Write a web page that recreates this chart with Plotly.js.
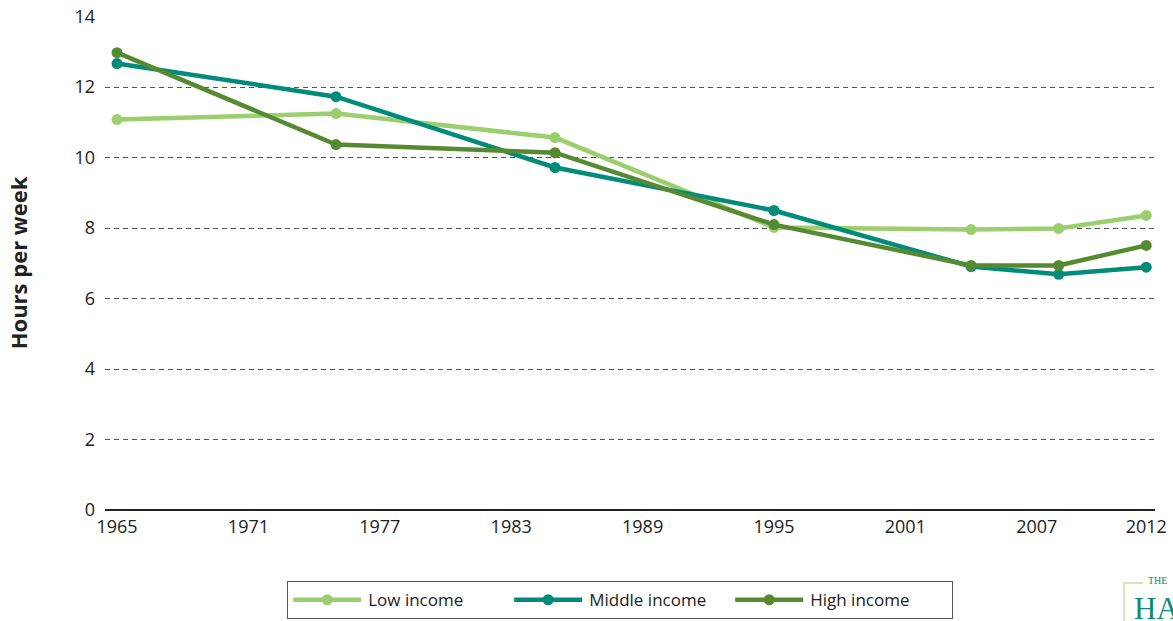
<!DOCTYPE html>
<html>
<head>
<meta charset="utf-8">
<script src="https://cdn.plot.ly/plotly-3.0.1.min.js"></script>
<style>html,body{margin:0;padding:0;background:#fff;}#chart{width:1173px;height:621px;}</style>
</head>
<body>
<div id="chart"></div>
<script>
const years = [1965, 1975, 1985, 1995, 2004, 2008, 2012];
const lowIncome = [11.08, 11.25, 10.57, 8.02, 7.96, 7.99, 8.36];
const middleIncome = [12.67, 11.73, 9.72, 8.50, 6.91, 6.69, 6.89];
const highIncome = [12.98, 10.37, 10.14, 8.10, 6.94, 6.94, 7.51];
const xTicks = [1965, 1971, 1977, 1983, 1989, 1995, 2001, 2007, 2012];
const yTicks = [0, 2, 4, 6, 8, 10, 12, 14];
const seriesNames = ['Low income', 'Middle income', 'High income'];

const colors = ['#9bcf6d', '#008b7a', '#568a32'];
const values = [lowIncome, middleIncome, highIncome];
const traces = values.map((v, i) => ({
  x: years, y: v, name: seriesNames[i], type: 'scatter', mode: 'lines+markers',
  line: {color: colors[i], width: 4.5},
  marker: {color: colors[i], size: 11}
}));

const W = 1173, H = 621, L = 105, R = 18, T = 16, B = 111;
const plotW = W - L - R, plotH = H - T - B;
function px(x) { return (x - L) / plotW; }
function py(y) { return (H - B - y) / plotH; }

const layout = {
  width: W, height: H,
  margin: {l: L, r: R, t: T, b: B, autoexpand: false},
  paper_bgcolor: '#fff', plot_bgcolor: '#fff',
  font: {family: 'Open Sans, Lato, sans-serif', size: 18, color: '#222'},
  showlegend: true,
  legend: {
    orientation: 'h', x: px(620), xanchor: 'center', y: py(581), yanchor: 'top',
    bordercolor: '#555', borderwidth: 1.2, font: {size: 17, color: '#222'},
    traceorder: 'normal', itemwidth: 70, entrywidth: 136, tracegroupgap: 0
  },
  xaxis: {
    range: [1964.45, 2012.4], tickvals: xTicks, ticktext: xTicks.map(String),
    showgrid: false, zeroline: false, showline: false, ticks: '',
    tickfont: {size: 18, color: '#222'}, ticklabelstandoff: 4, fixedrange: true
  },
  yaxis: {
    range: [0, 14.02], tickvals: yTicks, showgrid: true, gridcolor: '#555', gridwidth: 1,
    griddash: '5px,4px', zeroline: true, zerolinecolor: '#222', zerolinewidth: 1.5,
    showline: false, ticks: '', tickfont: {size: 18, color: '#222'}, ticklabelstandoff: 9,
    title: {text: 'Hours per week', font: {size: 22, color: '#222', family: 'Open Sans, sans-serif', weight: 'bold'}, standoff: 40},
    fixedrange: true
  },
  shapes: [
    {type: 'path', xref: 'paper', yref: 'paper',
     path: `M ${px(1124)},${py(621)} L ${px(1124)},${py(583)} L ${px(1143)},${py(583)}`,
     line: {color: '#c5e0a2', width: 1.5}}
  ],
  annotations: [
    {xref: 'paper', yref: 'paper', x: px(1146), y: py(588), xanchor: 'left', yanchor: 'bottom',
     text: 'THE', showarrow: false, font: {family: 'Liberation Serif, serif', size: 10, color: '#0f8a78'}},
    {xref: 'paper', yref: 'paper', x: px(1132), y: py(589), xanchor: 'left', yanchor: 'top',
     text: 'HA', showarrow: false, font: {family: 'Liberation Serif, serif', size: 31, color: '#0f8a78'}}
  ]
};
Plotly.newPlot('chart', traces, layout, {displayModeBar: false, staticPlot: true}).then(gd => {
  // lengthen legend line symbols to span the item width, marker at center
  document.querySelectorAll('.legend .traces').forEach(t => {
    const ln = t.querySelector('.legendlines path');
    if (ln) ln.setAttribute('d', 'M5,0h68');
    t.querySelectorAll('.legendpoints path').forEach(p => {
      p.setAttribute('transform', 'translate(39,0)');
    });
  });
});
</script>
</body>
</html>
